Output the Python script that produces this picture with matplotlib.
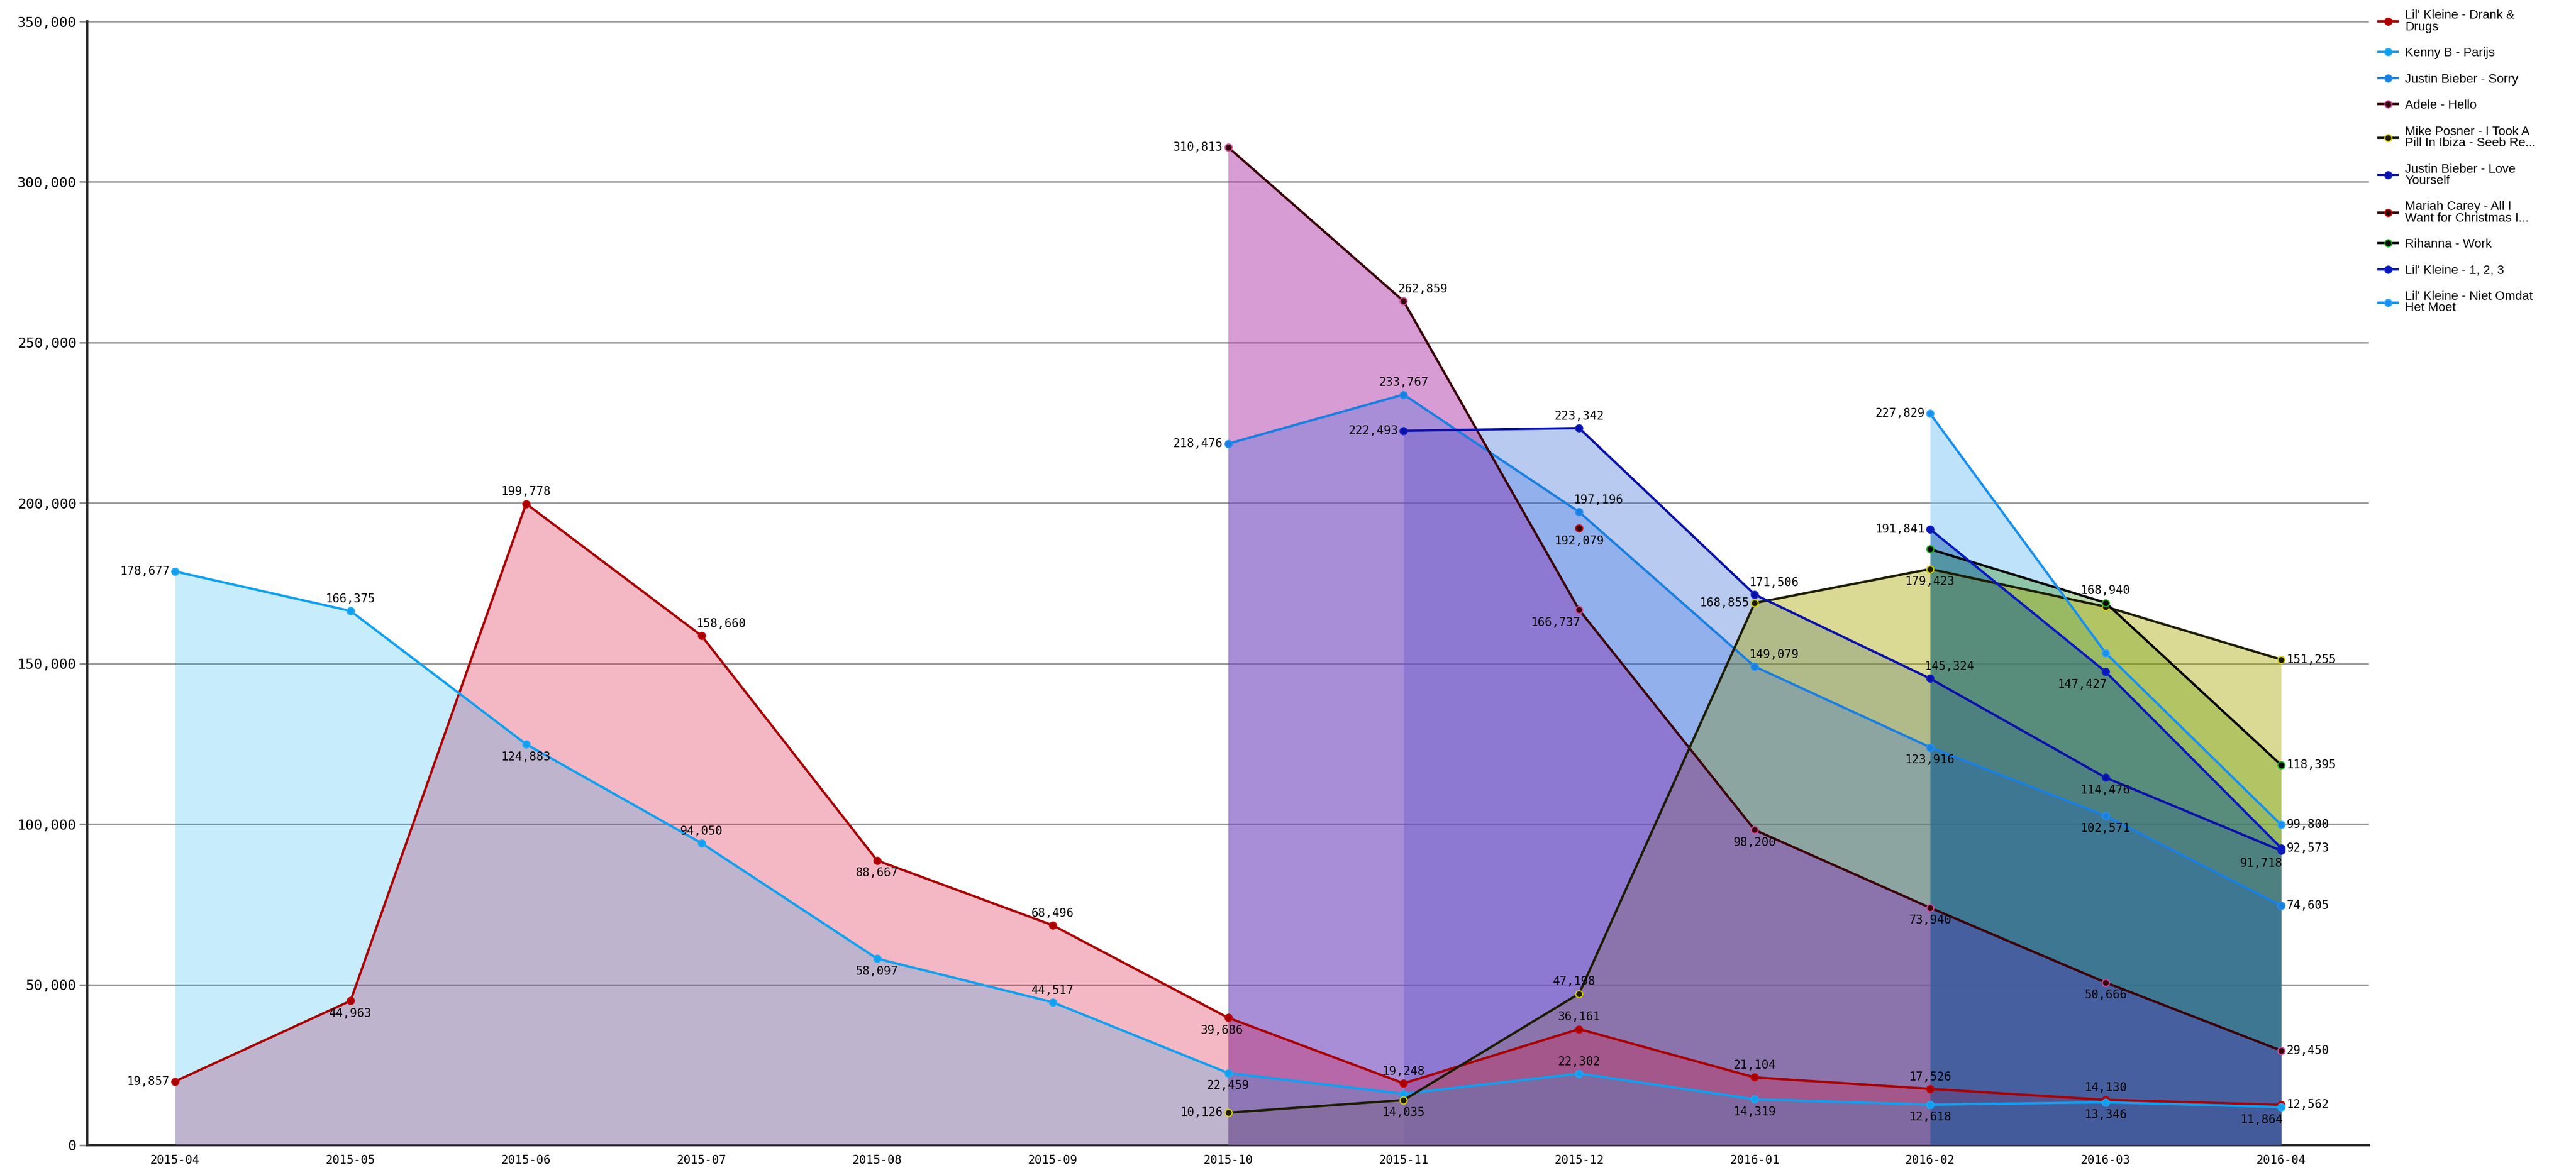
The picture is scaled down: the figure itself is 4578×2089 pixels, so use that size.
import numpy as np
import matplotlib
matplotlib.use("Agg")
import matplotlib.pyplot as plt

# data
months = ["2015-04", "2015-05", "2015-06", "2015-07", "2015-08", "2015-09", "2015-10",
          "2015-11", "2015-12", "2016-01", "2016-02", "2016-03", "2016-04"]
nan = np.nan

drank = [19857, 44963, 199778, 158660, 88667, 68496, 39686, 19248, 36161, 21104, 17526, 14130, 12562]
kenny = [178677, 166375, 124883, 94050, 58097, 44517, 22459, 16000, 22302, 14319, 12618, 13346, 11864]
sorry = [nan] * 6 + [218476, 233767, 197196, 149079, 123916, 102571, 74605]
adele = [nan] * 6 + [310813, 262859, 166737, 98200, 73940, 50666, 29450]
posner = [nan] * 6 + [10126, 14035, 47198, 168855, 179423, 167700, 151255]
love = [nan] * 7 + [222493, 223342, 171506, 145324, 114476, 91718]
mariah = [nan] * 8 + [192079, nan, nan, nan, nan]
rihanna = [nan] * 10 + [185600, 168940, 118395]
kleine123 = [nan] * 10 + [191841, 147427, 92573]
niet = [nan] * 10 + [227829, 153300, 99800]

names = ["Lil' Kleine - Drank &\nDrugs", "Kenny B - Parijs", "Justin Bieber - Sorry", "Adele - Hello",
         "Mike Posner - I Took A\nPill In Ibiza - Seeb Re...", "Justin Bieber - Love\nYourself",
         "Mariah Carey - All I\nWant for Christmas I...", "Rihanna - Work", "Lil' Kleine - 1, 2, 3",
         "Lil' Kleine - Niet Omdat\nHet Moet"]
series = [drank, kenny, sorry, adele, posner, love, mariah, rihanna, kleine123, niet]

# styling: line, marker edge, fill colour, fill alpha, fill stacking
line_c = ["#a80000", "#10a0f0", "#1a7fe0", "#3a0008", "#1c1c00", "#0a10a8", "#300000", "#050505", "#0818c0", "#1890f0"]
edge_c = ["#c00000", "#20a8f8", "#2090f0", "#d050a0", "#d8d000", "#1020c0", "#d00000", "#20b020", "#1020c0", "#30a8ff"]
fill_c = ["#dc143c", "#00aaf0", "#1e64e6", "#b03aa8", "#a8a800", "#2a5fd0", "#300000", "#2e8b00", "#0050a0", "#6ec0f5"]
fill_a = [0.30, 0.22, 0.25, 0.50, 0.42, 0.33, 0.0, 0.32, 0.42, 0.45]
fill_z = [2.9, 3.0, 2.8, 2.7, 2.6, 2.5, 2.4, 2.3, 3.1, 2.2]

# where each value label sits: L, R, A(above), B(below), AR, BL, None = no label
pos = [
    ["L", "B", "A", "AR", "B", "A", "B-", "A", "A", "A", "A", "A", "R"],
    ["L", "A", "B", "A", "B", "A", "B", None, "A", "B", "B", "B", "BL"],
    [None] * 6 + ["L", "A", "AR", "AR", "B", "B", "R"],
    [None] * 6 + ["L", "AR", "BL", "B", "B", "B", "R"],
    [None] * 6 + ["L", "B", "A-", "L", "B", None, "R"],
    [None] * 7 + ["L", "A", "AR", "AR", "B", "BL"],
    [None] * 8 + ["B", None, None, None, None],
    [None] * 10 + [None, "A", "R"],
    [None] * 10 + ["L", "BL", "R"],
    [None] * 10 + ["L", None, "R"],
]
offs = {
    "L": (-7, 0, "right", "center"),
    "R": (7, 0, "left", "center"),
    "A": (0, 8, "center", "bottom"),
    "A-": (-6, 8, "center", "bottom"),
    "B": (0, -9, "center", "top"),
    "B-": (-8, -9, "center", "top"),
    "AR": (-7, 8, "left", "bottom"),
    "BL": (2, -9, "right", "top"),
}

fig = plt.figure(figsize=(45.78, 20.89), dpi=100)
ax = fig.add_axes([0.0339, 0.0254, 0.9196 - 0.0339, 0.9818 - 0.0254])
x = np.arange(len(months))

for i in range(len(series)):
    y = np.array(series[i], dtype=float)
    if fill_a[i] > 0:
        ax.fill_between(x, y, 0, color=fill_c[i], alpha=fill_a[i], lw=0, zorder=fill_z[i])
    ax.plot(x, y, color=line_c[i], lw=3, marker="o", ms=9, mfc=line_c[i], mec=edge_c[i],
            mew=1.5, label=names[i], zorder=4 + i * 0.1)
    for j in range(len(y)):
        p = pos[i][j]
        if p is None or np.isnan(y[j]):
            continue
        dx, dy, ha, va = offs[p]
        ax.annotate(f"{int(y[j]):,}", (x[j], y[j]), xytext=(dx, dy), textcoords="offset points",
                    ha=ha, va=va, fontsize=15, family="DejaVu Sans Mono", zorder=10)

ax.set_xlim(-0.5, 12.5)
ax.set_ylim(0, 350000)
ax.set_xticks(x)
ax.set_xticklabels(months, family="DejaVu Sans Mono", fontsize=15)
ax.set_yticks(np.arange(0, 350001, 50000))
ax.set_yticklabels([f"{v:,}" for v in range(0, 350001, 50000)], family="DejaVu Sans Mono", fontsize=18)
ax.tick_params(axis="x", length=0, pad=12)
ax.tick_params(axis="y", length=10, width=2, color="#888888", pad=4)
ax.grid(axis="y", color="#999999", lw=2, zorder=1)
ax.set_axisbelow(True)
for s in ["top", "right"]:
    ax.spines[s].set_visible(False)
ax.spines["left"].set_linewidth(3)
ax.spines["left"].set_color("#333333")
ax.spines["bottom"].set_linewidth(3)
ax.spines["bottom"].set_color("#333333")

leg = fig.legend(loc="upper left", bbox_to_anchor=(0.921, 0.997), frameon=False,
                 prop={"family": "Liberation Sans", "size": 16}, handlelength=1.5,
                 handletextpad=0.6, labelspacing=1.15, borderpad=0)
for t in leg.get_texts():
    t.set_linespacing(0.95)

fig.savefig("out.png", dpi=100)
